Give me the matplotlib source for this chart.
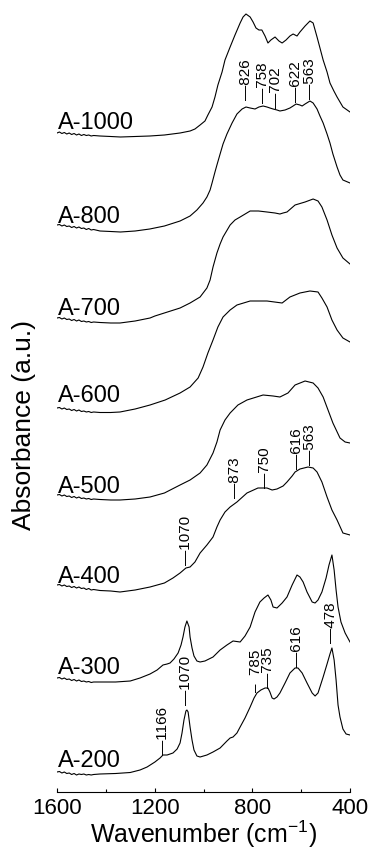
import matplotlib
matplotlib.use("Agg")
import matplotlib.pyplot as plt
from matplotlib.ticker import MultipleLocator

plt.rcParams['font.family'] = ['Liberation Sans', 'DejaVu Sans']
plt.rcParams['mathtext.fontset'] = 'custom'
plt.rcParams['mathtext.rm'] = 'Liberation Sans'
plt.rcParams['mathtext.default'] = 'regular'

# FTIR spectra, stacked (a.u.)
wn_a1000 = [1600, 1590, 1580, 1570, 1560, 1550, 1540, 1530, 1520, 1510, 1500, 1490, 1480, 1470, 1460, 1450,
            1424, 1380, 1340, 1280, 1220, 1160, 1096, 1055, 1035, 1014, 994, 982, 965, 953, 941, 924,
            912, 891, 871, 850, 838, 826, 809, 797, 785, 773, 761, 748, 736, 724, 707, 691, 678,
            662, 646, 633, 617, 605, 584, 564, 551, 535, 523, 510, 494, 482, 466, 453, 429, 400]
ab_a1000 = [659, 660, 658.5, 659.5, 658, 659, 657.5, 658.5, 657, 658, 656.5, 657.5, 656.5, 657, 656, 656.5,
            656, 655.5, 655, 655.5, 656, 657, 659, 661, 663, 667, 671, 677, 685, 695, 707, 720,
            732, 745, 757, 769, 775, 778, 775, 770, 764, 762, 762, 756, 749, 752, 755, 751, 749,
            752, 756, 758, 756, 760, 766, 771, 769, 755, 744, 732, 720, 709, 701, 695, 685, 680]

wn_a800 = [1600, 1590, 1580, 1570, 1560, 1550, 1540, 1530, 1520, 1510, 1500, 1490, 1480, 1470, 1460, 1450,
           1424, 1380, 1340, 1280, 1220, 1160, 1096, 1055, 1027, 1002, 986, 973, 965, 953, 945, 932,
           920, 904, 883, 863, 842, 826, 809, 789, 773, 756, 740, 728, 715, 699, 687, 666, 646,
           633, 621, 605, 596, 584, 564, 551, 535, 523, 510, 494, 482, 470, 453, 441, 429, 400]
ab_a800 = [567, 567.5, 566, 567, 565.5, 566, 564.5, 565.5, 564, 565, 563.5, 564, 562.5, 563.5, 562, 562.5,
           561, 560.5, 560, 561, 563, 566, 571, 576, 582, 589, 595, 602, 609, 620, 627, 638,
           648, 658, 669, 678, 683, 685, 684, 683, 685, 686, 685, 684, 683, 682, 681, 682, 684,
           686, 688, 687, 686, 688, 691, 689, 683, 676, 669, 658, 649, 638, 625, 617, 612, 609]

wn_a700 = [1600, 1590, 1580, 1570, 1560, 1550, 1540, 1530, 1520, 1510, 1500, 1490, 1480, 1470, 1460, 1450,
           1424, 1380, 1342, 1280, 1219, 1199, 1096, 1055, 1014, 986, 973, 961, 945, 932, 920, 891,
           871, 850, 809, 775, 740, 707, 687, 674, 658, 625, 584, 551, 531, 515, 494, 474, 453,
           429, 400]
ab_a700 = [474, 474.5, 473, 474, 472.5, 473, 471.5, 472.5, 471, 472, 470.5, 471, 470, 470.5, 469.5, 470,
           469.5, 469, 469, 471, 474, 476, 484, 489, 495, 504, 512, 525, 539, 548, 555, 567,
           572, 575, 581, 581, 580, 579, 578, 579, 580, 587, 590, 593, 591, 585, 572, 557, 544,
           534, 528]

wn_a600 = [1600, 1590, 1580, 1570, 1560, 1550, 1540, 1530, 1520, 1510, 1500, 1490, 1480, 1470, 1460, 1450,
           1424, 1380, 1342, 1280, 1219, 1157, 1096, 1055, 1022, 1002, 982, 961, 941, 920, 891, 863,
           809, 740, 678, 646, 605, 564, 531, 515, 494, 474, 453, 429, 400]
ab_a600 = [384, 384.5, 383, 384, 382.5, 383, 381.5, 382.5, 381, 382, 380.5, 381, 380, 380.5, 379.5, 380,
           379.5, 379.5, 380, 383, 387, 392, 399, 405, 414, 425, 439, 452, 465, 475, 482, 487,
           491, 491, 489, 495, 499, 501, 500, 494, 485, 472, 462, 454, 450]

wn_a500 = [1600, 1590, 1580, 1570, 1560, 1550, 1540, 1530, 1520, 1510, 1500, 1490, 1480, 1470, 1460, 1450,
           1424, 1380, 1342, 1280, 1219, 1160, 1096, 1055, 1014, 986, 961, 945, 932, 912, 891, 859,
           822, 756, 715, 687, 654, 625, 584, 551, 531, 510, 490, 470, 441, 420, 400]
ab_a500 = [297, 297.5, 296, 297, 295.5, 296, 294.5, 295.5, 294, 295, 293.5, 294, 293, 293.5, 292.5, 293,
           292.5, 292, 292, 293, 295, 299, 307, 312, 319, 327, 339, 350, 362, 372, 379, 387,
           392, 397, 396, 395, 399, 407, 411, 409, 404, 395, 382, 369, 354, 350, 349]

wn_a400 = [1600, 1590, 1580, 1570, 1560, 1550, 1540, 1530, 1520, 1510, 1500, 1490, 1480, 1470, 1460, 1450,
           1424, 1380, 1342, 1280, 1219, 1160, 1125, 1096, 1072, 1055, 1035, 1014, 986, 961, 945, 932,
           912, 891, 863, 822, 777, 756, 740, 719, 699, 674, 658, 637, 625, 605, 572, 551, 535,
           515, 494, 474, 453, 429, 400]
ab_a400 = [207, 207.5, 206, 207, 205.5, 206, 204.5, 205.5, 204, 205, 203.5, 204, 202.5, 203.5, 202, 202.5,
           201.5, 201, 200, 202, 205, 209, 214, 219, 224, 225, 230, 239, 247, 255, 265, 272,
           280, 285, 290, 299, 304, 304, 304, 302, 303, 306, 310, 316, 320, 323, 325, 324, 320,
           310, 295, 282, 272, 259, 257]

wn_a300 = [1600, 1590, 1580, 1570, 1560, 1550, 1540, 1530, 1520, 1510, 1500, 1490, 1480, 1470, 1460, 1450,
           1424, 1360, 1300, 1260, 1219, 1190, 1166, 1149, 1137, 1121, 1104, 1092, 1084, 1076, 1068, 1059,
           1055, 1047, 1039, 1027, 1014, 994, 961, 932, 904, 879, 850, 830, 809, 789, 769, 752,
           736, 724, 715, 699, 678, 658, 637, 617, 605, 592, 576, 555, 543, 531, 515, 498,
           486, 474, 465, 457, 449, 437, 420, 400]
ab_a300 = [114, 114.5, 113, 114, 112.5, 113, 111.5, 112.5, 111, 112, 110.5, 111, 110, 110.5, 109.5, 110,
           110, 110, 111, 114, 118, 122, 127, 128, 129, 133, 139, 147, 155, 165, 171, 165,
           155, 144, 136, 131, 130, 131, 135, 142, 147, 151, 150, 156, 165, 180, 190, 194,
           197, 192, 185, 184, 189, 195, 207, 217, 215, 210, 200, 190, 189, 192, 200, 214,
           227, 237, 222, 202, 185, 170, 159, 150]

wn_a200 = [1600, 1590, 1580, 1570, 1560, 1550, 1540, 1530, 1520, 1510, 1500, 1490, 1480, 1470, 1460, 1450,
           1424, 1360, 1300, 1260, 1231, 1199, 1178, 1166, 1149, 1137, 1125, 1108, 1096, 1088, 1080, 1072,
           1068, 1063, 1055, 1047, 1039, 1027, 1014, 986, 961, 932, 904, 891, 879, 863, 850, 830,
           809, 793, 781, 765, 748, 736, 728, 719, 711, 699, 687, 666, 646, 625, 613, 596,
           576, 555, 543, 531, 510, 494, 482, 474, 465, 457, 449, 441, 429, 416, 400]
ab_a200 = [20, 20.5, 19, 20, 18.5, 19, 17.5, 18.5, 17, 18, 17.5, 18, 17, 17.5, 17, 17.5,
           18, 18.5, 19.5, 22, 25, 30, 34, 37, 37, 38, 39, 43, 49, 59, 72, 81,
           82, 80, 65, 52, 42, 36, 35, 37, 40, 44, 51, 54, 55, 59, 65, 74,
           85, 94, 99, 102, 104, 104, 100, 94, 93, 95, 99, 109, 119, 124, 124, 119,
           109, 99, 96, 99, 115, 128, 138, 144, 132, 112, 87, 75, 63, 58, 57]

names = ['A-1000', 'A-800', 'A-700', 'A-600', 'A-500', 'A-400', 'A-300', 'A-200']
name_heights = [663, 569, 477, 390, 299, 209, 118, 25]

# peak marks: wavenumber, text and height of the mark's foot
peak_wn = [826, 758, 702, 622, 563, 873, 750, 616, 563, 1070, 1166, 1070, 785, 735, 616, 478]
peak_txt = ['\u2014826', '\u2014758', '\u2014702', '\u2014622', '\u2014563',
            '\u2014873', '\u2014750', '\u2014616', '\u2014563', '\u20141070',
            '\u20141166', '\u20141070', '\u2013  785', '\u2014735', '\u2014616', '\u2014478']
peak_h = [692, 689, 684, 690, 693, 294, 304, 323, 327, 227, 37, 87, 100, 104, 125, 149]

spectra = [(wn_a1000, ab_a1000), (wn_a800, ab_a800), (wn_a700, ab_a700), (wn_a600, ab_a600),
           (wn_a500, ab_a500), (wn_a400, ab_a400), (wn_a300, ab_a300), (wn_a200, ab_a200)]

fig = plt.figure(figsize=(3.71, 8.5), dpi=100)
ax = fig.add_axes([57 / 371, 58 / 850, 293 / 371, 792 / 850])

for wn, ab in spectra:
    ax.plot(wn, ab, color='black', lw=0.8)

for name, h in zip(names, name_heights):
    ax.text(1597, h, name, fontsize=17, ha='left', va='baseline')

for w, t, h in zip(peak_wn, peak_txt, peak_h):
    ax.text(w, h, t, rotation=90, fontsize=11, ha='center', va='bottom')

ax.set_xlim(1600, 400)
ax.set_ylim(0, 792)
for s in ['top', 'left', 'right']:
    ax.spines[s].set_visible(False)
ax.spines['bottom'].set_linewidth(0.8)
ax.set_yticks([])
ax.xaxis.set_major_locator(MultipleLocator(400))
ax.xaxis.set_minor_locator(MultipleLocator(200))
ax.tick_params(axis='x', which='major', direction='in', length=3, width=0.8, labelsize=16, pad=4)
ax.tick_params(axis='x', which='minor', direction='in', length=2, width=0.8)
ax.patch.set_visible(False)

fig.text(203.5 / 371, 7 / 850, 'Wavenumber (cm$^{-1}$)', fontsize=18, ha='center', va='baseline')
fig.text(24 / 371, 1 - 425 / 850, 'Absorbance (a.u.)', fontsize=19, rotation=90, ha='center', va='center')

fig.savefig('out.png', dpi=100)
